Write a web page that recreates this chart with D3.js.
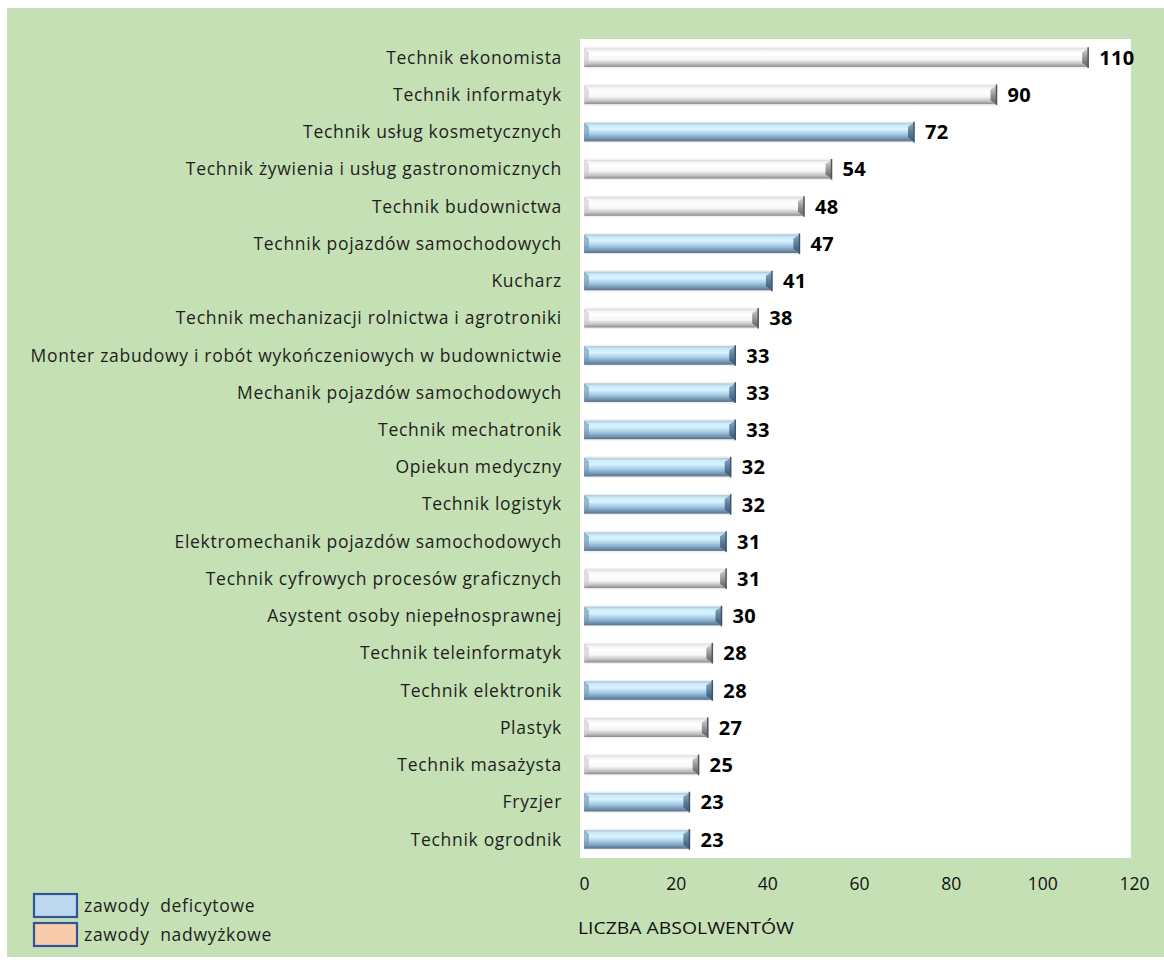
<!DOCTYPE html>
<html><head><meta charset="utf-8">
<script src="https://cdn.jsdelivr.net/npm/d3@7"></script>
<style>body{margin:0;background:#fff;} svg{display:block;}</style>
</head><body>
<svg id="c" width="1164" height="960"></svg>
<script>
const categories = [
 "Technik ekonomista","Technik informatyk","Technik usług kosmetycznych",
 "Technik żywienia i usług gastronomicznych","Technik budownictwa",
 "Technik pojazdów samochodowych","Kucharz",
 "Technik mechanizacji rolnictwa i agrotroniki",
 "Monter zabudowy i robót wykończeniowych w budownictwie",
 "Mechanik pojazdów samochodowych","Technik mechatronik","Opiekun medyczny",
 "Technik logistyk","Elektromechanik pojazdów samochodowych",
 "Technik cyfrowych procesów graficznych","Asystent osoby niepełnosprawnej",
 "Technik teleinformatyk","Technik elektronik","Plastyk","Technik masażysta",
 "Fryzjer","Technik ogrodnik"];
const values = [110,90,72,54,48,47,41,38,33,33,33,32,32,31,31,30,28,28,27,25,23,23];
const deficit = [0,0,1,0,0,1,1,0,1,1,1,1,1,1,0,1,0,1,0,0,1,1];
const xTicks = [0,20,40,60,80,100,120];
const legendLabels = ["zawody  deficytowe","zawody  nadwyżkowe"];
const legendColors = ["#bdd7ee","#f8cbad"];
const axisTitle = "LICZBA ABSOLWENTÓW";

const svg = d3.select("#c");
const font = "Open Sans, Noto Sans, sans-serif";

const defs = svg.append("defs");
function grad(id, stops){
  const g = defs.append("linearGradient").attr("id",id).attr("x1",0).attr("y1",0).attr("x2",0).attr("y2",1);
  stops.forEach(s=>g.append("stop").attr("offset",s[0]).attr("stop-color",s[1]));
}
grad("gWhite",[[0,"#dcdcdc"],[0.12,"#f4f4f4"],[0.3,"#ffffff"],[0.6,"#f6f6f6"],[0.82,"#c4c4c4"],[1,"#8c8c8c"]]);
grad("gBlue",[[0,"#a9c6da"],[0.15,"#cdebfb"],[0.35,"#d8f4ff"],[0.6,"#a8cde6"],[0.82,"#7b9cba"],[1,"#566f8a"]]);
grad("cWhite",[[0,"#d8d8d8"],[0.5,"#979797"],[1,"#606060"]]);
grad("cBlue",[[0,"#90abc3"],[0.5,"#5e7d9b"],[1,"#3d566f"]]);

// background panel
svg.append("rect").attr("x",7).attr("y",8).attr("width",1157).attr("height",949).attr("fill","#c5e0b4");
// plot area
const plot = {x0:580, x1:1131, y0:39, y1:858};
svg.append("rect").attr("x",plot.x0).attr("y",plot.y0).attr("width",plot.x1-plot.x0).attr("height",plot.y1-plot.y0).attr("fill","#ffffff");

const x = d3.scaleLinear().domain([0,120]).range([584,1134]);
const y = d3.scaleBand().domain(categories).range([plot.y0, plot.y1]).paddingInner(0.5).paddingOuter(0.25);

const data = categories.map((c,i)=>({c, v:values[i], d:deficit[i]}));
const bh = y.bandwidth();

const g = svg.append("g");
const bars = g.selectAll("g.bar").data(data).join("g").attr("class","bar");
// soft shadow
bars.append("rect")
  .attr("x",x(0)).attr("y",d=>y(d.c)-1.5)
  .attr("width",d=>x(d.v)-x(0)+1).attr("height",bh+3)
  .attr("fill","#000").attr("opacity",0.06).attr("rx",2);
bars.append("rect")
  .attr("x",x(0)).attr("y",d=>y(d.c))
  .attr("width",d=>x(d.v)-x(0)).attr("height",bh)
  .attr("fill",d=>d.d?"url(#gBlue)":"url(#gWhite)");
// left bevel
bars.append("path")
  .attr("d",d=>{const yy=y(d.c);return `M${x(0)},${yy} L${x(0)+5},${yy+4} L${x(0)+5},${yy+bh-4} L${x(0)},${yy+bh}Z`;})
  .attr("fill",d=>d.d?"#6f93b5":"#c9c9c9").attr("opacity",0.6);
// right end cap
bars.append("path")
  .attr("d",d=>{const xe=x(d.v), yy=y(d.c);return `M${xe-6},${yy+4} L${xe},${yy} L${xe},${yy+bh} L${xe-6},${yy+bh-4}Z`;})
  .attr("fill",d=>d.d?"url(#cBlue)":"url(#cWhite)");
bars.append("line")
  .attr("x1",d=>x(d.v)).attr("x2",d=>x(d.v)).attr("y1",d=>y(d.c)-1).attr("y2",d=>y(d.c)+bh+1)
  .attr("stroke",d=>d.d?"#3c566f":"#555").attr("stroke-width",1.5);

// value labels
g.selectAll("text.val").data(data).join("text").attr("class","val")
  .attr("x",d=>x(d.v)+11).attr("y",d=>y(d.c)+bh/2)
  .attr("dy","0.36em").attr("font-family",font).attr("font-weight","bold").attr("font-size",20)
  .attr("letter-spacing",0.4).attr("fill","#000").text(d=>d.v);

// category labels
g.selectAll("text.cat").data(data).join("text").attr("class","cat")
  .attr("x",562).attr("y",d=>y(d.c)+bh/2).attr("dy","0.35em")
  .attr("text-anchor","end").attr("font-family",font).attr("font-size",17.5)
  .attr("letter-spacing",0.7).attr("fill","#1e1e1e").text(d=>d.c);

// x axis
const ax = svg.append("g").attr("transform","translate(0,878)")
  .call(d3.axisBottom(x).tickValues(xTicks).tickSize(0).tickPadding(0));
ax.select(".domain").remove();
ax.selectAll("text").attr("font-family",font).attr("font-size",17.5).attr("fill","#111");

svg.append("text").attr("x",578).attr("y",934).attr("font-family",font).attr("font-size",17)
  .attr("textLength",216).attr("lengthAdjust","spacingAndGlyphs").attr("fill","#111").text(axisTitle);

// legend
const lg = svg.append("g").selectAll("g").data(legendLabels).join("g")
  .attr("transform",(d,i)=>`translate(34,${894+i*29})`);
lg.append("rect").attr("width",43).attr("height",23).attr("fill",(d,i)=>legendColors[i])
  .attr("stroke","#2f5597").attr("stroke-width",2.2);
lg.append("text").attr("x",50).attr("y",11.5).attr("dy","0.35em").attr("font-family",font)
  .attr("font-size",17.5).attr("letter-spacing",0.7).attr("fill","#1e1e1e").style("white-space","pre").text(d=>d);
</script>
</body></html>
